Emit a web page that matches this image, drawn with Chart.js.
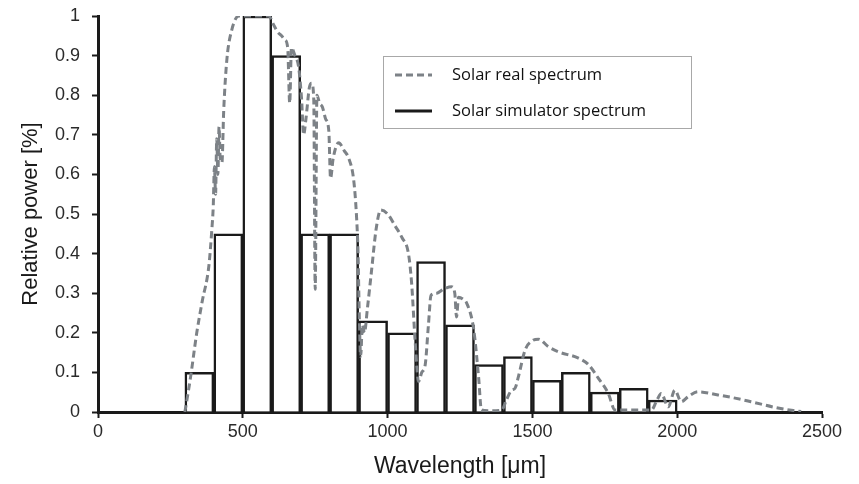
<!DOCTYPE html>
<html>
<head>
<meta charset="utf-8">
<script src="https://cdn.jsdelivr.net/npm/chart.js@4.4.1/dist/chart.umd.min.js"></script>
<style>
  html, body { margin: 0; padding: 0; background: #fff; }
  #wrap { width: 859px; height: 484px; }
</style>
</head>
<body>
<div id="wrap"><canvas id="spectrumChart"></canvas></div>
<script>
// Solar real spectrum
const realWavelengths = [300, 307, 320, 341, 360, 383, 393, 398, 402, 406, 410, 414, 418, 422, 428, 434, 445, 462, 486, 590,
  605, 620, 634, 645, 655, 662, 668, 680, 693, 703, 710, 718, 730, 738, 745, 750, 756, 765, 775, 786,
  797, 803, 812, 831, 850, 866, 883, 893, 898, 902, 907, 913, 920, 930, 945, 960, 976, 1000, 1026, 1050,
  1072, 1083, 1095, 1107, 1118, 1130, 1141, 1150, 1170, 1193, 1221, 1232, 1238, 1245, 1260, 1273, 1297, 1314, 1324, 1350,
  1394, 1410, 1428, 1440, 1452, 1475, 1500, 1521, 1555, 1590, 1659, 1693, 1728, 1762, 1785, 1850, 1911, 1930, 1945, 1969,
  1992, 2014, 2038, 2072, 2141, 2200, 2255, 2348, 2428];
const realPower = [0, 0.03, 0.09, 0.2, 0.28, 0.37, 0.46, 0.52, 0.62, 0.55, 0.69, 0.6, 0.72, 0.64, 0.63, 0.76, 0.89, 0.965, 1.0, 1.0,
  0.98, 0.96, 0.95, 0.94, 0.92, 0.78, 0.92, 0.9, 0.87, 0.79, 0.7, 0.74, 0.82, 0.83, 0.79, 0.31, 0.8, 0.78, 0.77, 0.74,
  0.71, 0.59, 0.64, 0.68, 0.66, 0.64, 0.585, 0.49, 0.4, 0.25, 0.14, 0.22, 0.2, 0.26, 0.36, 0.46, 0.51, 0.5, 0.47, 0.44,
  0.4, 0.325, 0.18, 0.077, 0.1, 0.12, 0.22, 0.295, 0.3, 0.31, 0.316, 0.3, 0.24, 0.29, 0.285, 0.275, 0.21, 0.09, 0.005, 0.003,
  0.005, 0.03, 0.055, 0.06, 0.09, 0.157, 0.18, 0.184, 0.165, 0.152, 0.136, 0.12, 0.085, 0.047, 0.005, 0.005, 0.005, 0.03, 0.047, 0.013,
  0.055, 0.026, 0.039, 0.051, 0.043, 0.035, 0.026, 0.01, 0.001];

// Solar simulator spectrum (100 µm wide bins, centres)
const simWavelengths = [350, 450, 550, 650, 750, 850, 950, 1050, 1150, 1250, 1350, 1450, 1550, 1650, 1750, 1850, 1950];
const simPower = [0.1, 0.45, 1.0, 0.9, 0.45, 0.45, 0.23, 0.2, 0.38, 0.22, 0.12, 0.14, 0.08, 0.1, 0.05, 0.06, 0.03];

const xTicks = [0, 500, 1000, 1500, 2000, 2500];
const yTicks = [0, 0.1, 0.2, 0.3, 0.4, 0.5, 0.6, 0.7, 0.8, 0.9, 1];

const seriesLabels = ['Solar real spectrum', 'Solar simulator spectrum'];

const tickFont = { family: 'Liberation Sans', size: 18 };
const titleFont = { family: 'Liberation Sans', size: 22 };

// Legend inside the plot, boxed
const boxedLegend = {
    id: 'boxedLegend',
    afterDraw(chart) {
        const ctx = chart.ctx;
        const x = 383, y = 56, w = 308, h = 72;
        ctx.save();
        ctx.strokeStyle = '#a8a8a8';
        ctx.lineWidth = 1;
        ctx.strokeRect(x + 0.5, y + 0.5, w, h);
        chart.data.datasets.forEach((ds, i) => {
            const ly = y + 19 + i * 36;
            ctx.beginPath();
            ctx.strokeStyle = ds.borderColor;
            ctx.lineWidth = 3;
            ctx.setLineDash(ds.borderDash || []);
            ctx.moveTo(x + 12, ly);
            ctx.lineTo(x + 49, ly);
            ctx.stroke();
            ctx.setLineDash([]);
            ctx.fillStyle = '#111';
            ctx.font = '16.5px "Open Sans"';
            ctx.textBaseline = 'middle';
            ctx.fillText(ds.label, x + 69, ly);
        });
        ctx.restore();
    }
};

const ctx = document.getElementById('spectrumChart').getContext('2d');
new Chart(ctx, {
    type: 'bar',
    data: {
        datasets: [
            {
                type: 'line',
                label: seriesLabels[0],
                data: realWavelengths.map((w, i) => ({ x: w, y: realPower[i] })),
                borderColor: '#7d8287',
                borderWidth: 3,
                borderDash: [7, 4],
                pointRadius: 0,
                fill: false,
                cubicInterpolationMode: 'monotone',
                order: 0
            },
            {
                type: 'bar',
                label: seriesLabels[1],
                data: simWavelengths.map((w, i) => ({ x: w, y: simPower[i] })),
                backgroundColor: '#ffffff',
                borderColor: '#1a1a1a',
                borderWidth: 2.5,
                barPercentage: 1,
                categoryPercentage: 1,
                order: 1
            }
        ]
    },
    options: {
        responsive: true,
        maintainAspectRatio: false,
        animation: false,
        layout: { padding: { left: 14, right: 37, top: 16, bottom: 0 } },
        plugins: { legend: { display: false }, tooltip: { enabled: false } },
        scales: {
            x: {
                type: 'linear',
                min: 0,
                max: 2500,
                offset: false,
                afterBuildTicks: s => { s.ticks = xTicks.map(v => ({ value: v })); },
                afterFit: s => { s.height = 72; },
                ticks: { font: tickFont, color: '#2a2a2a', padding: 3, maxRotation: 0, callback: v => String(v) },
                grid: { drawOnChartArea: false, offset: false, tickLength: 6, tickWidth: 2, color: '#1a1a1a' },
                border: { display: true, color: '#1a1a1a', width: 3 },
                title: { display: true, text: 'Wavelength [μm]', font: { family: 'Liberation Sans', size: 23 }, color: '#1a1a1a', padding: { top: 0 } }
            },
            y: {
                min: 0,
                max: 1,
                afterBuildTicks: s => { s.ticks = yTicks.map(v => ({ value: v })); },
                afterFit: s => { s.width = 84; s.paddingTop = 0; s.paddingBottom = 0; },
                ticks: { font: tickFont, color: '#2a2a2a', padding: 12, callback: v => String(v) },
                grid: { drawOnChartArea: false, tickLength: 6, tickWidth: 2, color: '#1a1a1a' },
                border: { display: true, color: '#1a1a1a', width: 3 },
                title: { display: true, text: 'Relative power [%]', font: titleFont, color: '#1a1a1a', padding: { bottom: 4 } }
            }
        }
    },
    plugins: [boxedLegend]
});
</script>
</body>
</html>
